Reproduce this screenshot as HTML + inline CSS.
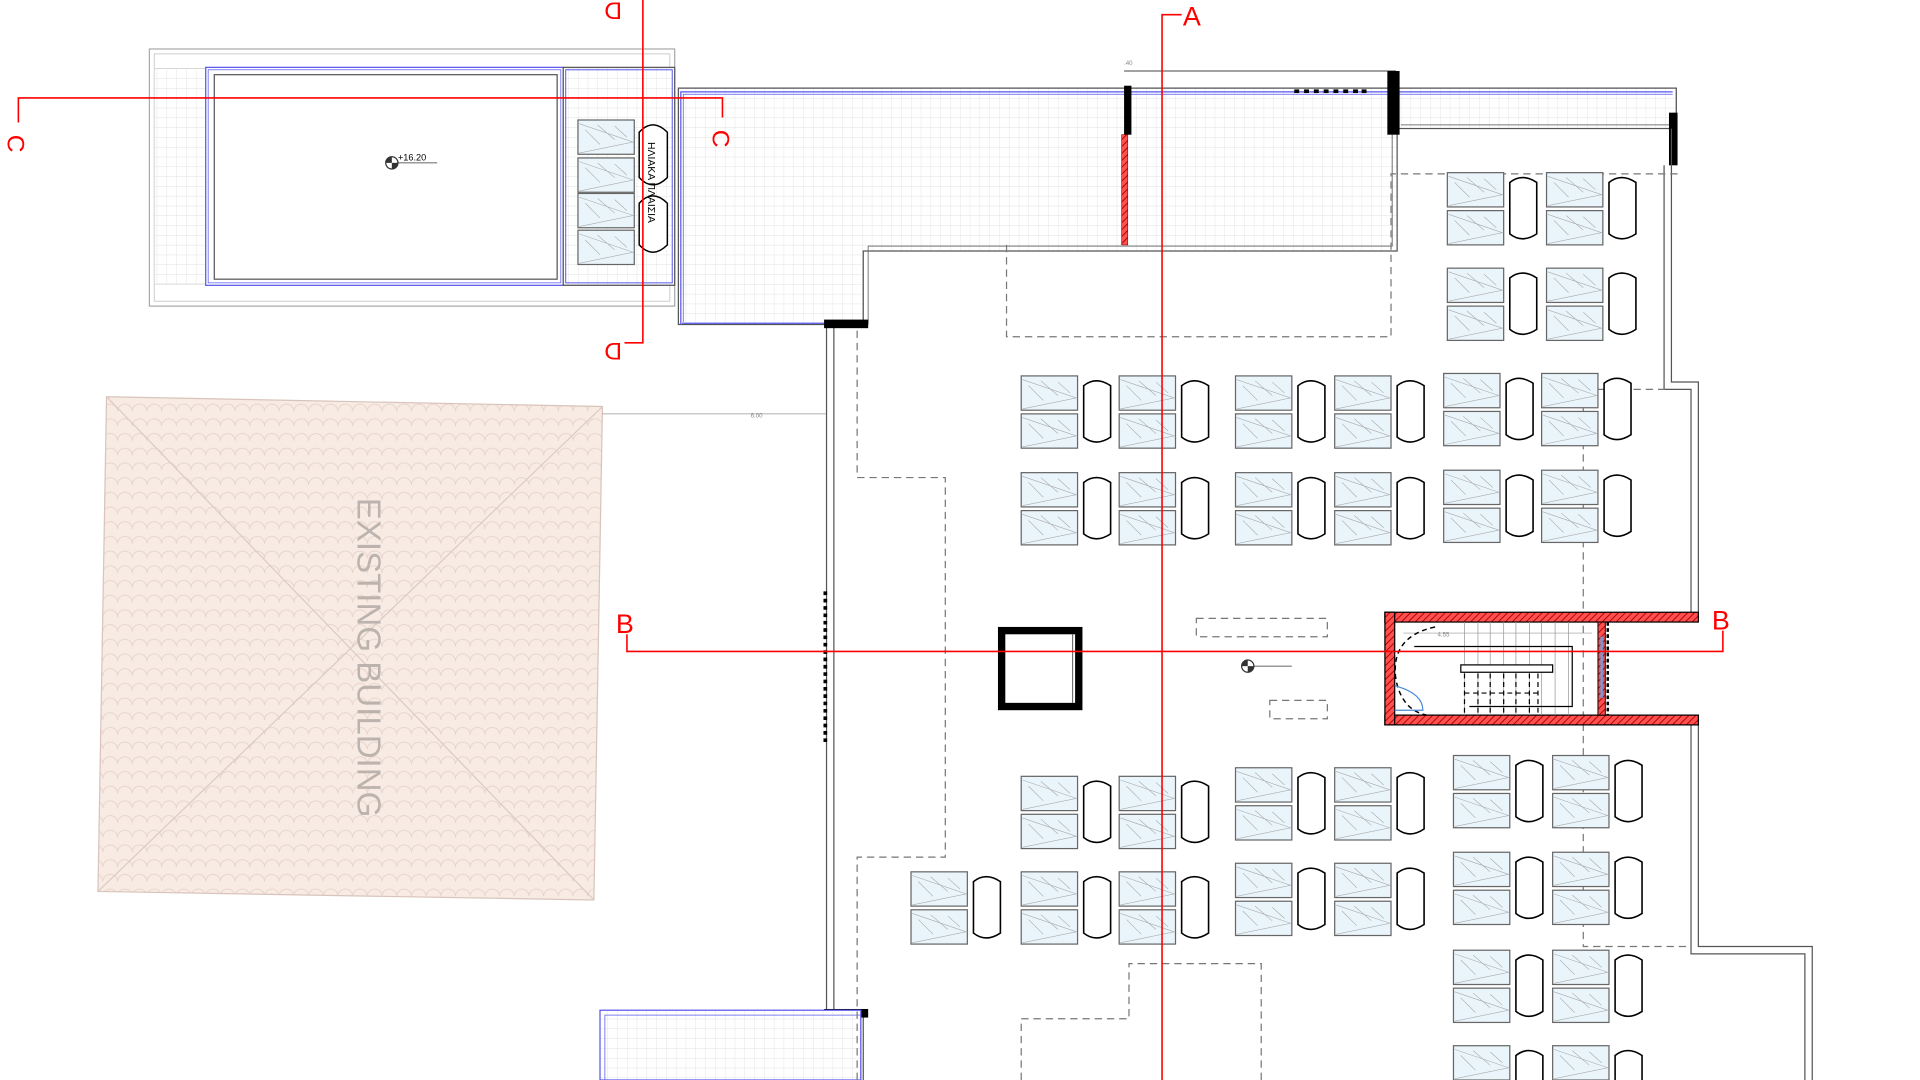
<!DOCTYPE html>
<html><head><meta charset="utf-8"><style>html,body{margin:0;padding:0;background:#fff;overflow:hidden}svg{display:block}</style></head>
<body>
<svg width="1920" height="1080" viewBox="0 0 1568 882" xmlns="http://www.w3.org/2000/svg" font-family="Liberation Sans, sans-serif">
<defs>
<pattern id="tile" width="8" height="8" patternUnits="userSpaceOnUse"><rect width="8" height="8" fill="#fff"/><path d="M0 0H8M0 0V8" stroke="#e2e2e2" stroke-width="0.7"/></pattern>
<pattern id="roof" width="12" height="12" patternUnits="userSpaceOnUse"><rect width="12" height="12" fill="#f8ebe4"/><path d="M0 12 A6 6 0 0 1 12 12" fill="none" stroke="#e6d2c8" stroke-width="0.7"/></pattern>
<pattern id="hatch" width="4" height="4" patternUnits="userSpaceOnUse" patternTransform="rotate(45)"><rect width="4" height="4" fill="#ff5050"/><line x1="0" y1="0" x2="0" y2="4" stroke="#a00" stroke-width="1.5"/></pattern>
<g id="sp">
<rect x="0" y="0" width="46" height="28" fill="#eaf5fb" stroke="#666" stroke-width="1"/>
<path d="M1 3 L45 18 L1 27 M6 8 L18 20 M16 4 L30 16 M30 5 L40 14" fill="none" stroke="#aaa" stroke-width="0.5"/>
</g>
<g id="pg">
<use href="#sp"/><use href="#sp" y="31"/>
<path d="M51 8 Q61 0 73 8 V50 Q61 58 51 50 Z" fill="#fff" stroke="#000" stroke-width="1.3"/>
</g>
</defs>

<!-- Existing building -->
<polygon points="87,324 492,332 485,735 80,728" fill="url(#roof)" stroke="#d8c4ba" stroke-width="1"/>
<path d="M87,324 L485,735 M492,332 L80,728" stroke="#dccbc2" stroke-width="1"/>
<text transform="translate(292,537) rotate(90)" text-anchor="middle" font-size="27" fill="#bdb3ae">EXISTING BUILDING</text>
<line x1="492" y1="338" x2="675" y2="338" stroke="#999" stroke-width="0.6"/>
<text x="613" y="341" font-size="5" fill="#888">6.00</text>

<!-- Pool block -->
<rect x="122" y="40" width="429" height="210" fill="#fff" stroke="#aaa" stroke-width="1"/>
<rect x="126" y="44" width="421" height="202" fill="none" stroke="#ccc" stroke-width="0.8"/>
<rect x="126" y="56" width="42" height="176" fill="url(#tile)" stroke="#ccc" stroke-width="0.6"/>
<rect x="168" y="55" width="292" height="178" fill="#fff" stroke="#5555ee" stroke-width="1"/>
<rect x="170" y="57" width="288" height="174" fill="none" stroke="#5555ee" stroke-width="0.6"/>
<rect x="175" y="61" width="280" height="167" fill="#fff" stroke="#555" stroke-width="1"/>
<rect x="460" y="55" width="91" height="178" fill="url(#tile)" stroke="#555" stroke-width="1"/>
<rect x="462" y="57" width="87" height="174" fill="none" stroke="#5555ee" stroke-width="0.8"/>
<circle cx="320" cy="133" r="5" fill="#fff" stroke="#333"/><path d="M320 128 A5 5 0 0 0 315 133 H320Z M320 138 A5 5 0 0 0 325 133 H320Z" fill="#333"/>
<line x1="324" y1="133" x2="357" y2="133" stroke="#333" stroke-width="0.6"/>
<text x="325" y="131" font-size="7.5" fill="#000">+16.20</text>
<use href="#sp" x="472" y="98"/><use href="#sp" x="472" y="129"/><use href="#sp" x="472" y="158"/><use href="#sp" x="472" y="188"/>
<path d="M522 108 Q533 96 545 108 V145 Q533 157 522 145 Z" fill="#fff" stroke="#000" stroke-width="1.2"/>
<path d="M522 166 Q533 154 545 166 V200 Q533 212 522 200 Z" fill="#fff" stroke="#000" stroke-width="1.2"/>
<text transform="translate(529,116) rotate(90)" font-size="8.5" fill="#000">ΗΛΙΑΚΑ ΠΛΑΙΣΙΑ</text>

<!-- Terrace -->
<polygon points="554,72 1369,72 1369,105 1141,105 1141,205 705,205 705,265 554,265" fill="url(#tile)" stroke="#555" stroke-width="1"/>
<polyline points="556,265 556,75 1366,75" fill="none" stroke="#5555ee" stroke-width="1"/>
<polyline points="558,263 558,77 1366,77" fill="none" stroke="#5555ee" stroke-width="0.6"/>
<polyline points="557,264 675,264" fill="none" stroke="#5555ee" stroke-width="1"/>
<polyline points="1144,102 1366,102" fill="none" stroke="#777" stroke-width="0.8"/>
<polyline points="709,265 709,201 1137,201 1137,102" fill="none" stroke="#777" stroke-width="0.8"/>
<line x1="918" y1="58" x2="1140" y2="58" stroke="#444" stroke-width="0.8"/>
<rect x="918" y="70" width="6" height="40" fill="#000"/>
<rect x="916" y="110" width="5" height="90" fill="url(#hatch)" stroke="#900" stroke-width="0.5"/>
<rect x="1133" y="58" width="10" height="52" fill="#000"/>
<rect x="1363" y="92" width="7" height="43" fill="#000"/>
<text x="918" y="53" font-size="5" fill="#888">.40</text>
<g fill="#000"><rect x="1057" y="73" width="4" height="3"/><rect x="1065" y="73" width="4" height="3"/><rect x="1073" y="73" width="4" height="3"/><rect x="1081" y="73" width="4" height="3"/><rect x="1089" y="73" width="4" height="3"/><rect x="1097" y="73" width="4" height="3"/><rect x="1105" y="73" width="4" height="3"/><rect x="1112" y="73" width="4" height="3"/></g>

<!-- Main outline -->
<g fill="none" stroke="#555" stroke-width="1">
<line x1="675" y1="265" x2="675" y2="828"/><line x1="681" y1="265" x2="681" y2="828"/>
<polyline points="1365,105 1365,312 1387,312 1387,500"/><polyline points="1359,135 1359,318 1381,318 1381,500"/>
<polyline points="1387,590 1387,773 1480,773 1480,882"/><polyline points="1381,590 1381,779 1474,779 1474,882"/>
<line x1="675" y1="828" x2="675" y2="882"/><line x1="705" y1="828" x2="705" y2="882"/>
</g>
<rect x="673" y="261" width="36" height="7" fill="#000"/>
<rect x="673" y="824" width="36" height="7" fill="#000"/>
<rect x="490" y="825" width="213" height="57" fill="url(#tile)" stroke="#5555ee" stroke-width="1"/>
<rect x="494" y="829" width="209" height="53" fill="none" stroke="#5555ee" stroke-width="0.6"/>
<line x1="674" y1="483" x2="674" y2="608" stroke="#000" stroke-width="3" stroke-dasharray="3,3"/>

<!-- Dashed lines -->
<g fill="none" stroke="#777" stroke-width="1" stroke-dasharray="6,4">
<polyline points="822,200 822,275 1136,275 1136,142 1370,142"/>
<polyline points="700,270 700,390 772,390 772,700 700,700 700,882"/>
<polyline points="1360,318 1293,318 1293,773 1380,773"/>
<polyline points="834,882 834,832 922,832 922,787 1030,787 1030,882"/>
<rect x="977" y="505" width="107" height="15"/>
<rect x="1037" y="572" width="47" height="15"/>
</g>

<!-- Column square -->
<rect x="818" y="515" width="63" height="62" fill="#fff" stroke="#000" stroke-width="6"/>
<line x1="876" y1="518" x2="876" y2="574" stroke="#555" stroke-width="0.8"/>

<!-- Elevation marker -->
<circle cx="1019" cy="544" r="5" fill="#fff" stroke="#333"/><path d="M1019 539 A5 5 0 0 0 1014 544 H1019Z M1019 549 A5 5 0 0 0 1024 544 H1019Z" fill="#333"/>
<line x1="1024" y1="544" x2="1055" y2="544" stroke="#333" stroke-width="0.6"/>

<!-- Stair core -->
<rect x="1131" y="500" width="256" height="8" fill="url(#hatch)" stroke="#000" stroke-width="1"/>
<rect x="1131" y="584" width="256" height="8" fill="url(#hatch)" stroke="#000" stroke-width="1"/>
<rect x="1131" y="500" width="8" height="92" fill="url(#hatch)" stroke="#000" stroke-width="1"/>
<rect x="1305" y="508" width="6" height="76" fill="url(#hatch)" stroke="#000" stroke-width="0.8"/>
<line x1="1308" y1="520" x2="1308" y2="570" stroke="#6aa0e0" stroke-width="2"/>
<line x1="1313" y1="508" x2="1313" y2="584" stroke="#000" stroke-width="2" stroke-dasharray="3,2"/>
<g stroke="#999" stroke-width="0.6">
<line x1="1196" y1="508" x2="1196" y2="584"/><line x1="1207" y1="508" x2="1207" y2="584"/><line x1="1217" y1="508" x2="1217" y2="584"/><line x1="1228" y1="508" x2="1228" y2="584"/><line x1="1238" y1="508" x2="1238" y2="584"/><line x1="1249" y1="508" x2="1249" y2="584"/><line x1="1259" y1="508" x2="1259" y2="584"/><line x1="1270" y1="508" x2="1270" y2="584"/><line x1="1281" y1="508" x2="1281" y2="584"/>
<line x1="1146" y1="517" x2="1300" y2="517"/>
</g>
<text x="1174" y="520" font-size="5" fill="#888">4.55</text>
<polyline points="1155,528 1284,528 1284,577 1200,577" fill="none" stroke="#000" stroke-width="1"/>
<rect x="1193" y="543" width="75" height="6" fill="#fff" stroke="#000" stroke-width="1"/>
<g stroke="#000" stroke-width="1" stroke-dasharray="4,3"><line x1="1196" y1="550" x2="1196" y2="584"/><line x1="1207" y1="550" x2="1207" y2="584"/><line x1="1217" y1="550" x2="1217" y2="584"/><line x1="1228" y1="550" x2="1228" y2="584"/><line x1="1238" y1="550" x2="1238" y2="584"/><line x1="1249" y1="550" x2="1249" y2="584"/><line x1="1256" y1="550" x2="1256" y2="584"/><line x1="1196" y1="566" x2="1256" y2="566"/></g>
<path d="M1172 512 Q1135 520 1140 555 Q1145 580 1165 584" fill="none" stroke="#000" stroke-width="1.2" stroke-dasharray="4,3"/>
<path d="M1139 580 H1162 Q1162 566 1139 560" fill="none" stroke="#4a8ad8" stroke-width="1"/>

<!-- Solar panels -->
<g>
<use href="#pg" x="1182" y="141"/><use href="#pg" x="1263" y="141"/>
<use href="#pg" x="1182" y="219"/><use href="#pg" x="1263" y="219"/>
<use href="#pg" x="834" y="307"/><use href="#pg" x="914" y="307"/><use href="#pg" x="1009" y="307"/><use href="#pg" x="1090" y="307"/><use href="#pg" x="1179" y="305"/><use href="#pg" x="1259" y="305"/>
<use href="#pg" x="834" y="386"/><use href="#pg" x="914" y="386"/><use href="#pg" x="1009" y="386"/><use href="#pg" x="1090" y="386"/><use href="#pg" x="1179" y="384"/><use href="#pg" x="1259" y="384"/>
<use href="#pg" x="834" y="634"/><use href="#pg" x="914" y="634"/><use href="#pg" x="1009" y="627"/><use href="#pg" x="1090" y="627"/><use href="#pg" x="1187" y="617"/><use href="#pg" x="1268" y="617"/>
<use href="#pg" x="744" y="712"/><use href="#pg" x="834" y="712"/><use href="#pg" x="914" y="712"/><use href="#pg" x="1009" y="705"/><use href="#pg" x="1090" y="705"/><use href="#pg" x="1187" y="696"/><use href="#pg" x="1268" y="696"/>
<use href="#pg" x="1187" y="776"/><use href="#pg" x="1268" y="776"/>
<use href="#pg" x="1187" y="854"/><use href="#pg" x="1268" y="854"/>
</g>

<!-- Section lines -->
<g stroke="#f00" stroke-width="1.3" fill="none">
<polyline points="965,12 949,12 949,882"/>
<polyline points="512,518 512,532 1407,532 1407,515"/>
<polyline points="15,100 15,80 590,80 590,96"/>
<polyline points="525,0 525,280 510,280"/>
</g>
<g fill="#f00" font-size="22">
<text x="966" y="21">A</text>
<text x="503" y="517">B</text>
<text x="1398" y="514">B</text>
<text transform="translate(6,110) rotate(90)" font-size="20">C</text>
<text transform="translate(582,106) rotate(90)" font-size="20">C</text>
<text transform="translate(508,280) rotate(180)" font-size="20">D</text>
<text transform="translate(508,2) rotate(180)" font-size="20">D</text>
</g>
</svg>
</body></html>
